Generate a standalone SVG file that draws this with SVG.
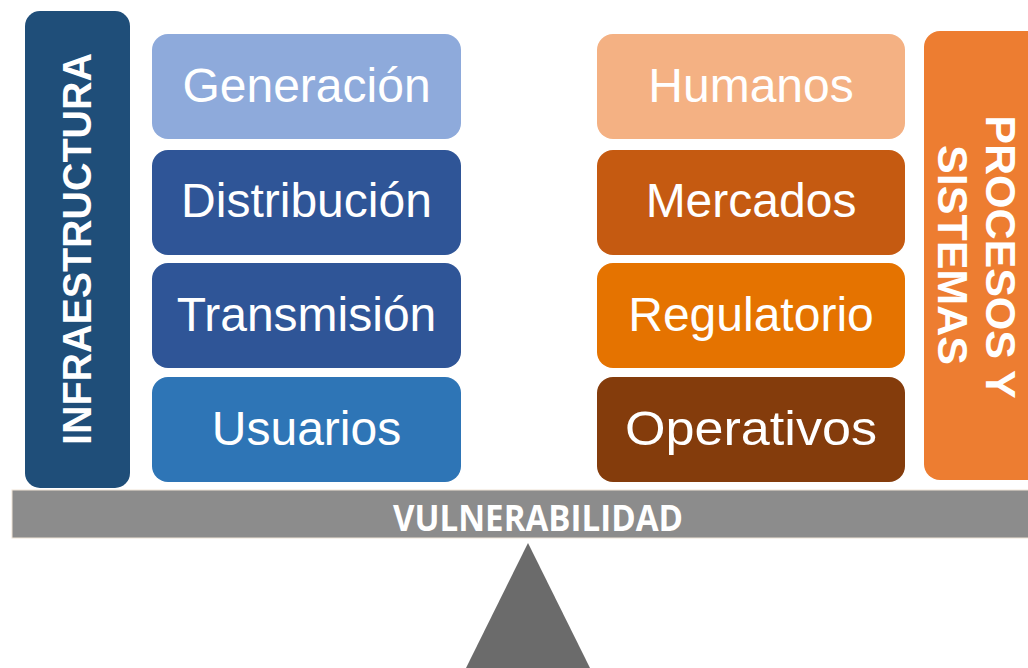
<svg xmlns="http://www.w3.org/2000/svg" width="1028" height="668" viewBox="0 0 1028 668">
<style>
.lbl{font-family:"Liberation Sans",Arial,sans-serif;font-size:48px;fill:#fff;text-anchor:middle}
.side{font-family:"Liberation Sans",Arial,sans-serif;font-size:40px;font-weight:bold;fill:#fff;text-anchor:middle}
.vul{font-family:"Open Sans","Liberation Sans",sans-serif;font-size:35px;font-weight:bold;fill:#fff;text-anchor:middle}
</style>
<rect width="1028" height="668" fill="#ffffff"/>
<g id="infraestructura">
<rect x="25" y="11" width="105" height="477" rx="15" fill="#1f4e79"/>
<text class="side" transform="translate(91,249) rotate(-90)" textLength="392" lengthAdjust="spacingAndGlyphs">INFRAESTRUCTURA</text>
</g>
<g id="generacion"><rect x="152" y="34" width="309" height="105" rx="16" fill="#8eaadb"/><text class="lbl" x="306.5" y="102">Generación</text></g>
<g id="distribucion"><rect x="152" y="150" width="309" height="105" rx="16" fill="#2f5597"/><text class="lbl" x="306.5" y="217">Distribución</text></g>
<g id="transmision"><rect x="152" y="263" width="309" height="105" rx="16" fill="#2f5597"/><text class="lbl" x="306.5" y="331">Transmisión</text></g>
<g id="usuarios"><rect x="152" y="377" width="309" height="105" rx="16" fill="#2e75b6"/><text class="lbl" x="306.5" y="445">Usuarios</text></g>
<g id="humanos"><rect x="597" y="34" width="308" height="105" rx="16" fill="#f4b183"/><text class="lbl" x="751" y="102">Humanos</text></g>
<g id="mercados"><rect x="597" y="150" width="308" height="105" rx="16" fill="#c55a11"/><text class="lbl" x="751" y="217">Mercados</text></g>
<g id="regulatorio"><rect x="597" y="263" width="308" height="105" rx="16" fill="#e57300"/><text class="lbl" x="751" y="331">Regulatorio</text></g>
<g id="operativos"><rect x="597" y="377" width="308" height="105" rx="16" fill="#843c0c"/><text class="lbl" x="751" y="445" textLength="252" lengthAdjust="spacingAndGlyphs">Operativos</text></g>
<g id="procesos">
<rect x="924" y="31" width="120" height="449" rx="16" fill="#ed7d31"/>
<text class="side" transform="translate(986,257) rotate(90)" style="font-size:43px">PROCESOS Y</text>
<text class="side" transform="translate(938,255) rotate(90)" style="font-size:43px">SISTEMAS</text>
</g>
<g id="vulnerabilidad">
<rect x="12" y="490" width="1020" height="48" fill="#8c8c8c" stroke="#efe4d6" stroke-width="1"/>
<text class="vul" x="538" y="531" textLength="290" lengthAdjust="spacingAndGlyphs">VULNERABILIDAD</text>
</g>
<g id="fulcro">
<polygon points="528,543 590,668 466,668" fill="#6b6b6b"/>
</g>
<g id="connectors"></g>
</svg>
